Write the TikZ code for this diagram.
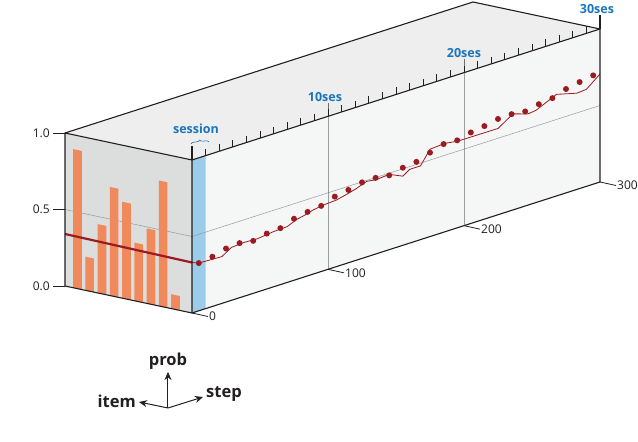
\documentclass[tikz,border=0pt]{standalone}
\usepackage{fontspec}
\setmainfont{Open Sans}
\usetikzlibrary{arrows.meta,decorations.pathreplacing,calc}

\definecolor{frontgray}{HTML}{DCDDDD}
\definecolor{topgray}{HTML}{EEEEEF}
\definecolor{sidegray}{HTML}{F5F6F6}
\definecolor{sessblue}{HTML}{9DCBEA}
\definecolor{labelblue}{HTML}{1B75BC}
\definecolor{barorange}{HTML}{F08A5D}
\definecolor{darkred}{HTML}{9B1C20}
\definecolor{axisblack}{HTML}{231F20}
\definecolor{linegray}{HTML}{6D6E71}

\newcommand{\numfont}{\fontsize{12}{14}\selectfont}
\newcommand{\labfont}{\fontsize{12.5}{15}\selectfont\bfseries}
\newcommand{\axfont}{\fontsize{16.5}{19}\selectfont\bfseries}

\newcommand{\probbar}[2]{
  % bar on the front face, centred at item #1, height #2
  \fill[barorange] (0,#1-0.034,0) -- (0,#1+0.034,0) -- (0,#1+0.034,#2) -- (0,#1-0.034,#2) -- cycle;
}

\begin{document}
\begin{tikzpicture}[x={(13.6pt,4.367pt)}, y={(-127pt,27pt)}, z={(0pt,153pt)},
  edge/.style={axisblack, line width=1.1pt, line join=round},
  tick/.style={axisblack, line width=0.8pt},
  sesline/.style={linegray, line width=0.7pt},
  midline/.style={black!40, line width=0.5pt},
  numlabel/.style={axisblack, inner sep=1pt, font=\numfont},
  seslabel/.style={labelblue, inner sep=1pt, font=\labfont},
  axlabel/.style={axisblack, inner sep=1pt, font=\axfont},
  axarrow/.style={axisblack, line width=1pt, -{Stealth[length=8pt, width=7pt]}}]
	\useasboundingbox (-192pt,-129pt) rectangle (446pt,313pt);

	% faces
	\fill[frontgray] (0,0,0) -- (0,1,0) -- (0,1,1) -- (0,0,1) -- cycle;
	\fill[topgray] (0,0,1) -- (0,1,1) -- (30,1,1) -- (30,0,1) -- cycle;
	\fill[sidegray] (0,0,0) -- (30,0,0) -- (30,0,1) -- (0,0,1) -- cycle;
	\fill[sessblue] (0,0,0) -- (1,0,0) -- (1,0,1) -- (0,0,1) -- cycle;

	\draw[midline] (0,1,0.5) -- (0,0,0.5) -- (30,0,0.5);
	\draw[sesline] (10,0,0) -- (10,0,1) -- ++(0pt,13.5pt) coordinate (s10);
	\draw[sesline] (20,0,0) -- (20,0,1) -- ++(0pt,13.5pt) coordinate (s20);

	% item probabilities
	\probbar{0.902}{0.906}
	\probbar{0.806}{0.22}
	\probbar{0.709}{0.45}
	\probbar{0.613}{0.71}
	\probbar{0.516}{0.63}
	\probbar{0.420}{0.38}
	\probbar{0.323}{0.49}
	\probbar{0.227}{0.82}
	\probbar{0.130}{0.094}

	\draw[darkred, line width=2.2pt] (0,1,0.34) -- (0,0,0.33);
	\draw[darkred, line width=0.8pt, line join=round] plot coordinates {
		(0,0,0.33) (0.5,0,0.312) (1.3,0,0.309) (2.2,0,0.306) (2.9,0,0.346) (3.8,0,0.352)
		(4.8,0,0.348) (6,0,0.361) (7,0,0.365) (7.7,0,0.392) (8.3,0,0.403) (8.9,0,0.419)
		(9.65,0,0.43) (10.6,0,0.435) (11.5,0,0.454) (12.1,0,0.469) (12.85,0,0.494)
		(13.5,0,0.485) (14.5,0,0.492) (15.5,0,0.452) (16,0,0.482) (16.8,0,0.482)
		(17.5,0,0.571) (18.6,0,0.578) (19.5,0,0.566) (20.2,0,0.565) (22.5,0,0.564)
		(23.6,0,0.628) (24.7,0,0.596) (25.3,0,0.603) (26.8,0,0.664) (28.3,0,0.629)
		(29,0,0.634) (30,0,0.706)};
	\foreach \s/\p in {0.5/0.312, 1.5/0.325, 2.5/0.35, 3.5/0.357, 4.5/0.343, 5.5/0.362,
		6.5/0.369, 7.5/0.402, 8.5/0.418, 9.5/0.429, 10.5/0.461, 11.5/0.476, 12.5/0.497,
		13.5/0.498, 14.5/0.486, 15.5/0.507, 16.5/0.517, 17.5/0.549, 18.5/0.576, 19.5/0.572,
		20.5/0.595, 21.5/0.608, 22.5/0.626, 23.5/0.629, 24.5/0.618, 25.5/0.637,
		26.5/0.648, 27.5/0.679, 28.5/0.696, 29.5/0.711}
		\fill[darkred] (\s,0,\p) circle (3pt);

	% box edges
	\draw[edge] (0,0,0) -- (0,1,0) -- (0,1,1) -- (0,0,1) -- cycle;
	\draw[edge] (0,1,1) -- (30,1,1) -- (30,0,1) -- (0,0,1);
	\draw[edge] (0,0,0) -- (30,0,0) -- (30,0,1);
	\draw[edge] (0,0,1) -- ++(0pt,13.5pt) coordinate (s0);
	\draw[edge] (30,0,1) -- ++(0pt,13.5pt) coordinate (s30);
	\foreach \s in {1,...,29}
		\draw[tick] (\s,0,1) -- ++(0pt,7pt);

	% session labels
	\node[seslabel, anchor=south] (l10) at ([xshift=-3pt]s10) {10ses};
	\node[seslabel, anchor=south] (l20) at (s20) {20ses};
	\node[seslabel, anchor=south] (l30) at ([xshift=-3pt, yshift=1pt]s30) {30ses};
	\path (0,0,1) ++(-1pt,16pt) coordinate (brl);
	\path (0,0,1) ++(17pt,18pt) coordinate (brr);
	\draw[labelblue, line width=0.6pt, decorate, decoration={brace, amplitude=3pt}] (brl) -- (brr);
	\node[seslabel] (sess) at ($(brl)!0.5!(brr)+(-4pt,14pt)$) {session};

	% prob axis
	\foreach \v/\t/\n in {0/0.0/lo, 0.5/0.5/mid, 1/1.0/hi} {
		\draw[tick] (0,1,\v) -- ++(-12pt,0pt) coordinate (p\n);
		\node[numlabel, anchor=east] (pl\n) at ([xshift=-2pt]p\n) {\t};
	}
	% step axis
	\foreach \s/\t in {0/0, 10/100, 20/200, 30/300} {
		\draw[tick] (\s,0,0) -- ++(16pt,-3.5pt) coordinate (t\s);
		\node[numlabel, anchor=west] (tl\s) at (t\s) {\t};
	}

	% orientation
	\coordinate (ax) at (-24pt,-95pt);
	\coordinate (axp) at (-24pt,-59pt);
	\coordinate (axs) at (11pt,-84pt);
	\coordinate (axi) at (-53pt,-89pt);
	\draw[axarrow] (ax) -- (axp);
	\draw[axarrow] (ax) -- (axs);
	\draw[axarrow] (ax) -- (axi);
	\node[axlabel, anchor=south] (prob) at ([yshift=1pt]axp) {prob};
	\node[axlabel, anchor=west] (step) at ([xshift=2pt, yshift=3pt]axs) {step};
	\node[axlabel, anchor=east] (item) at ([xshift=-2pt, yshift=1pt]axi) {item};
\end{tikzpicture}
\end{document}
